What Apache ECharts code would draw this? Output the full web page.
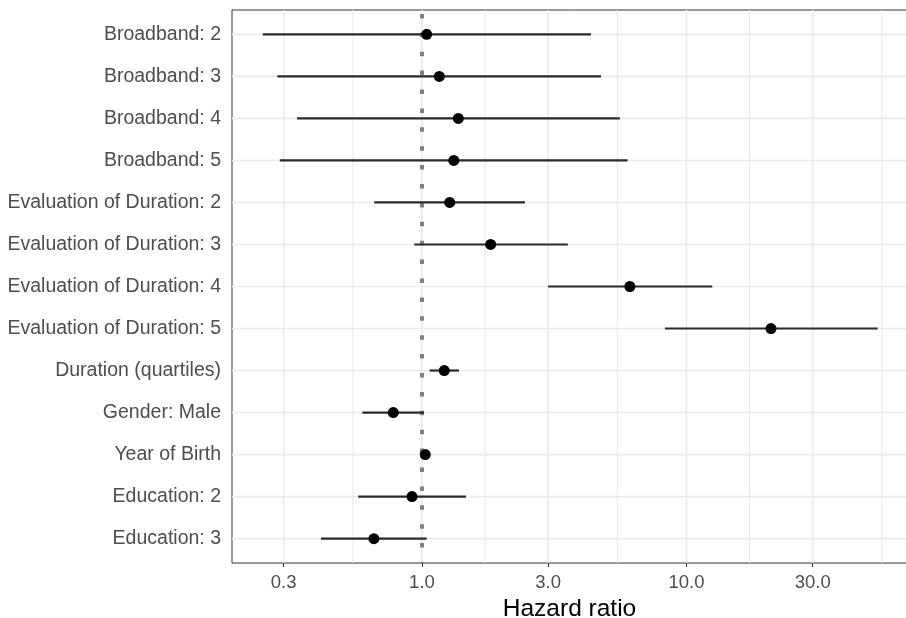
<!DOCTYPE html>
<html>
<head>
<meta charset="utf-8">
<script src="https://cdn.jsdelivr.net/npm/echarts@6/dist/echarts.min.js"></script>
<style>
  html, body { margin: 0; padding: 0; background: #fff; }
  #chart { width: 906px; height: 618px; }
</style>
</head>
<body>
<div id="chart"></div>
<script>
// hazard ratios with 95% CI (top row first)
const categories = [
  "Broadband: 2", "Broadband: 3", "Broadband: 4", "Broadband: 5",
  "Evaluation of Duration: 2", "Evaluation of Duration: 3",
  "Evaluation of Duration: 4", "Evaluation of Duration: 5",
  "Duration (quartiles)", "Gender: Male", "Year of Birth",
  "Education: 2", "Education: 3"
];
const hazard = [1.042, 1.163, 1.372, 1.319, 1.273, 1.818, 6.11, 20.87, 1.214, 0.779, 1.029, 0.917, 0.658];
const lower = [0.250, 0.284, 0.337, 0.290, 0.660, 0.935, 3.00, 8.29, 1.069, 0.595, 1.018, 0.574, 0.415];
const upper = [4.355, 4.75, 5.60, 5.99, 2.45, 3.56, 12.52, 52.8, 1.380, 1.018, 1.040, 1.467, 1.042];

const xTicks = [0.3, 1, 3, 10, 30];
const xTickLabels = ["0.3", "1.0", "3.0", "10.0", "30.0"];
const xMinor = [0.548, 1.732, 5.477, 17.32, 54.77];
const xRange = [0.1913, 68.2];
const refValue = 1;

const lg = (v) => Math.log10(v);
const xMin = lg(xRange[0]);
const xMax = lg(xRange[1]);
const yMin = 0.42;
const yMax = 13.58;
const yPos = categories.map((_, i) => i + 1);

const font = "Liberation Sans";

const chart = echarts.init(document.getElementById("chart"));

chart.setOption({
  animation: false,
  grid: {
    left: 232, right: -1, top: 10, bottom: 55,
    show: true, borderColor: "#333", borderWidth: 1,
    outerBoundsMode: "none"
  },
  xAxis: {
    type: "value",
    min: xMin,
    max: xMax,
    name: "Hazard ratio",
    nameLocation: "middle",
    nameGap: 32,
    nameTextStyle: { fontFamily: font, fontSize: 24.5, color: "#000" },
    axisLine: { show: false },
    axisTick: { show: true, length: 4, lineStyle: { color: "#333", width: 1 }, customValues: xTicks.map(lg) },
    axisLabel: {
      fontFamily: font, fontSize: 18.5, color: "#4d4d4d", margin: 10,
      customValues: xTicks.map(lg),
      formatter: (v) => {
        const i = xTicks.findIndex((t) => Math.abs(lg(t) - v) < 1e-6);
        return i >= 0 ? xTickLabels[i] : "";
      }
    },
    splitLine: { show: false }
  },
  yAxis: {
    type: "value",
    inverse: true,
    min: yMin,
    max: yMax,
    axisLine: { show: false },
    axisTick: { show: true, length: 4, lineStyle: { color: "#333", width: 1 }, customValues: yPos },
    axisLabel: {
      fontFamily: font, fontSize: 19.5, color: "#4d4d4d", margin: 11,
      customValues: yPos,
      formatter: (v) => categories[Math.round(v) - 1] || ""
    },
    splitLine: { show: false }
  },
  series: [
    {
      // vertical grid lines (major at tick values, minor in between)
      type: "custom",
      silent: true,
      z: 1,
      data: xTicks.map((t) => [lg(t), 1.6]).concat(xMinor.map((t) => [lg(t), 1.1])),
      encode: { x: 0 },
      renderItem: (params, api) => {
        const a = api.coord([api.value(0), yMin]);
        const b = api.coord([api.value(0), yMax]);
        return {
          type: "line",
          shape: { x1: a[0], y1: a[1], x2: b[0], y2: b[1] },
          style: { stroke: "#ebebeb", lineWidth: api.value(1) }
        };
      }
    },
    {
      // horizontal grid lines at each row
      type: "custom",
      silent: true,
      z: 1,
      data: yPos.map((y) => [xMin, y]),
      encode: { x: 0, y: 1 },
      renderItem: (params, api) => {
        const a = api.coord([xMin, api.value(1)]);
        const b = api.coord([xMax, api.value(1)]);
        return {
          type: "line",
          shape: { x1: a[0], y1: a[1], x2: b[0], y2: b[1] },
          style: { stroke: "#ebebeb", lineWidth: 1.6 }
        };
      }
    },
    {
      // reference line at HR = 1
      type: "line",
      silent: true,
      z: 2,
      symbol: "none",
      data: [[lg(refValue), yMin], [lg(refValue), yMax]],
      lineStyle: { color: "#808080", width: 4, type: [4.5, 14.4], dashOffset: 15 }
    },
    {
      // confidence intervals
      type: "custom",
      silent: true,
      z: 3,
      data: categories.map((_, i) => [lg(lower[i]), lg(upper[i]), yPos[i]]),
      encode: { x: [0, 1], y: 2 },
      renderItem: (params, api) => {
        const a = api.coord([api.value(0), api.value(2)]);
        const b = api.coord([api.value(1), api.value(2)]);
        return {
          type: "line",
          shape: { x1: a[0], y1: a[1], x2: b[0], y2: b[1] },
          style: { stroke: "#2a2a2a", lineWidth: 2.2 }
        };
      }
    },
    {
      type: "scatter",
      z: 4,
      symbol: "circle",
      symbolSize: 11,
      itemStyle: { color: "#000", opacity: 1 },
      data: categories.map((_, i) => [lg(hazard[i]), yPos[i]])
    }
  ]
});
</script>
</body>
</html>
